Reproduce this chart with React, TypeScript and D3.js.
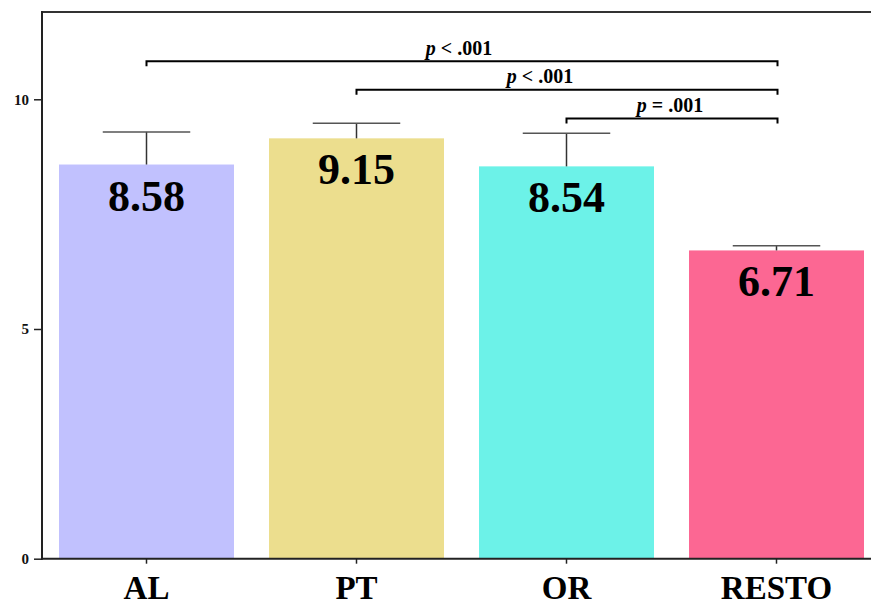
import { useEffect, useRef } from 'react';
import * as d3 from 'd3';

const categories = ['AL', 'PT', 'OR', 'RESTO'];
const means = [8.58, 9.15, 8.54, 6.71];
const errors = [0.71, 0.33, 0.72, 0.1];
const barColors = ['#C1C1FE', '#ECDE8E', '#6CF2E8', '#FC6793'];
const yTicks = [0, 5, 10];

// significance brackets: from category, to category, label
const brackets = [
  { from: 'AL', to: 'RESTO', sign: '<' },
  { from: 'PT', to: 'RESTO', sign: '<' },
  { from: 'OR', to: 'RESTO', sign: '=' },
];

const W = 871;
const H = 605;
const FONT = '"Liberation Serif", "Times New Roman", serif';

export default function App() {
  const ref = useRef<SVGSVGElement | null>(null);

  useEffect(() => {
    if (!ref.current) return;
    const svg = d3.select(ref.current);
    svg.selectAll('*').remove();

    const left = 42;
    const bottom = 558.7;
    const top = 12;

    const x = d3.scaleBand<string>()
      .domain(categories)
      .range([left, 881])
      .paddingInner(35 / 210)
      .paddingOuter(17 / 210);

    const y = d3.scaleLinear().domain([0, 11.9]).range([bottom, top]);

    const data = categories.map((c, i) => ({ c, m: means[i], e: errors[i], col: barColors[i] }));
    const bw = x.bandwidth();

    // bars
    svg.selectAll('.bar')
      .data(data)
      .enter()
      .append('rect')
      .attr('x', d => x(d.c)!)
      .attr('y', d => y(d.m))
      .attr('width', bw)
      .attr('height', d => y(0) - y(d.m))
      .attr('fill', d => d.col);

    // error bars
    const eb = svg.selectAll('.err').data(data).enter().append('g');
    eb.append('line')
      .attr('x1', d => x(d.c)! + bw / 2)
      .attr('x2', d => x(d.c)! + bw / 2)
      .attr('y1', d => y(d.m))
      .attr('y2', d => y(d.m + d.e))
      .attr('stroke', '#333')
      .attr('stroke-width', 1.5);
    eb.append('line')
      .attr('x1', d => x(d.c)! + bw / 4)
      .attr('x2', d => x(d.c)! + bw * 3 / 4)
      .attr('y1', d => y(d.m + d.e))
      .attr('y2', d => y(d.m + d.e))
      .attr('stroke', '#555')
      .attr('stroke-width', 1.5);

    // value labels
    svg.selectAll('.val')
      .data(data)
      .enter()
      .append('text')
      .attr('x', d => x(d.c)! + bw / 2)
      .attr('y', d => y(d.m) + 46)
      .attr('text-anchor', 'middle')
      .attr('font-family', FONT)
      .attr('font-weight', 'bold')
      .attr('font-size', 44)
      .attr('fill', '#000')
      .text(d => d.m.toFixed(2));

    // frame top line
    svg.append('line')
      .attr('x1', left).attr('x2', W)
      .attr('y1', top).attr('y2', top)
      .attr('stroke', '#333').attr('stroke-width', 2);

    // y axis
    const yAxis = svg.append('g')
      .attr('transform', `translate(${left},0)`)
      .call(d3.axisLeft(y).tickValues(yTicks).tickSize(8).tickSizeOuter(0).tickPadding(5));
    yAxis.select('.domain').remove();
    yAxis.selectAll('line').attr('stroke', '#222').attr('stroke-width', 1.5);
    yAxis.selectAll('text')
      .attr('font-family', FONT)
      .attr('font-weight', 'bold')
      .attr('font-size', 15)
      .attr('fill', '#111');
    svg.append('line')
      .attr('x1', left).attr('x2', left)
      .attr('y1', top - 1).attr('y2', bottom + 1)
      .attr('stroke', '#222').attr('stroke-width', 2);

    // x axis
    const xAxis = svg.append('g')
      .attr('transform', `translate(0,${bottom})`)
      .call(d3.axisBottom(x).tickSize(5).tickSizeOuter(0).tickPadding(10));
    xAxis.select('.domain').remove();
    xAxis.selectAll('line').attr('stroke', '#222').attr('stroke-width', 1.5);
    xAxis.selectAll('text').remove();
    svg.append('line')
      .attr('x1', left - 1).attr('x2', W)
      .attr('y1', bottom).attr('y2', bottom)
      .attr('stroke', '#222').attr('stroke-width', 2);
    svg.selectAll('.xlab')
      .data(categories)
      .enter()
      .append('text')
      .attr('x', d => x(d)! + bw / 2)
      .attr('y', 599)
      .attr('text-anchor', 'middle')
      .attr('font-family', FONT)
      .attr('font-weight', 'bold')
      .attr('font-size', 33)
      .attr('fill', '#000')
      .text(d => d);

    // significance brackets
    const levelTop = 10.83;
    const levelStep = 0.625;
    const labelShift = [-3, -27, -2];
    brackets.forEach((b, i) => {
      const x1 = x(b.from)! + bw / 2;
      const x2 = x(b.to)! + bw / 2 + 1;
      const by = y(levelTop - i * levelStep);
      svg.append('path')
        .attr('d', `M${x1},${by + 5}V${by}H${x2}V${by + 5}`)
        .attr('fill', 'none')
        .attr('stroke', '#000')
        .attr('stroke-width', 2);
      const t = svg.append('text')
        .attr('x', (x1 + x2) / 2 + labelShift[i])
        .attr('y', by - 6.5)
        .attr('text-anchor', 'middle')
        .attr('font-family', FONT)
        .attr('font-weight', 'bold')
        .attr('font-size', 20)
        .attr('fill', '#000');
      t.append('tspan').attr('font-style', 'italic').text('p');
      t.append('tspan').text(` ${b.sign} .001`);
    });
  }, []);

  return (
    <svg
      ref={ref}
      width={W}
      height={H}
      style={{ position: 'absolute', left: 0, top: 0, background: '#fff' }}
    />
  );
}
